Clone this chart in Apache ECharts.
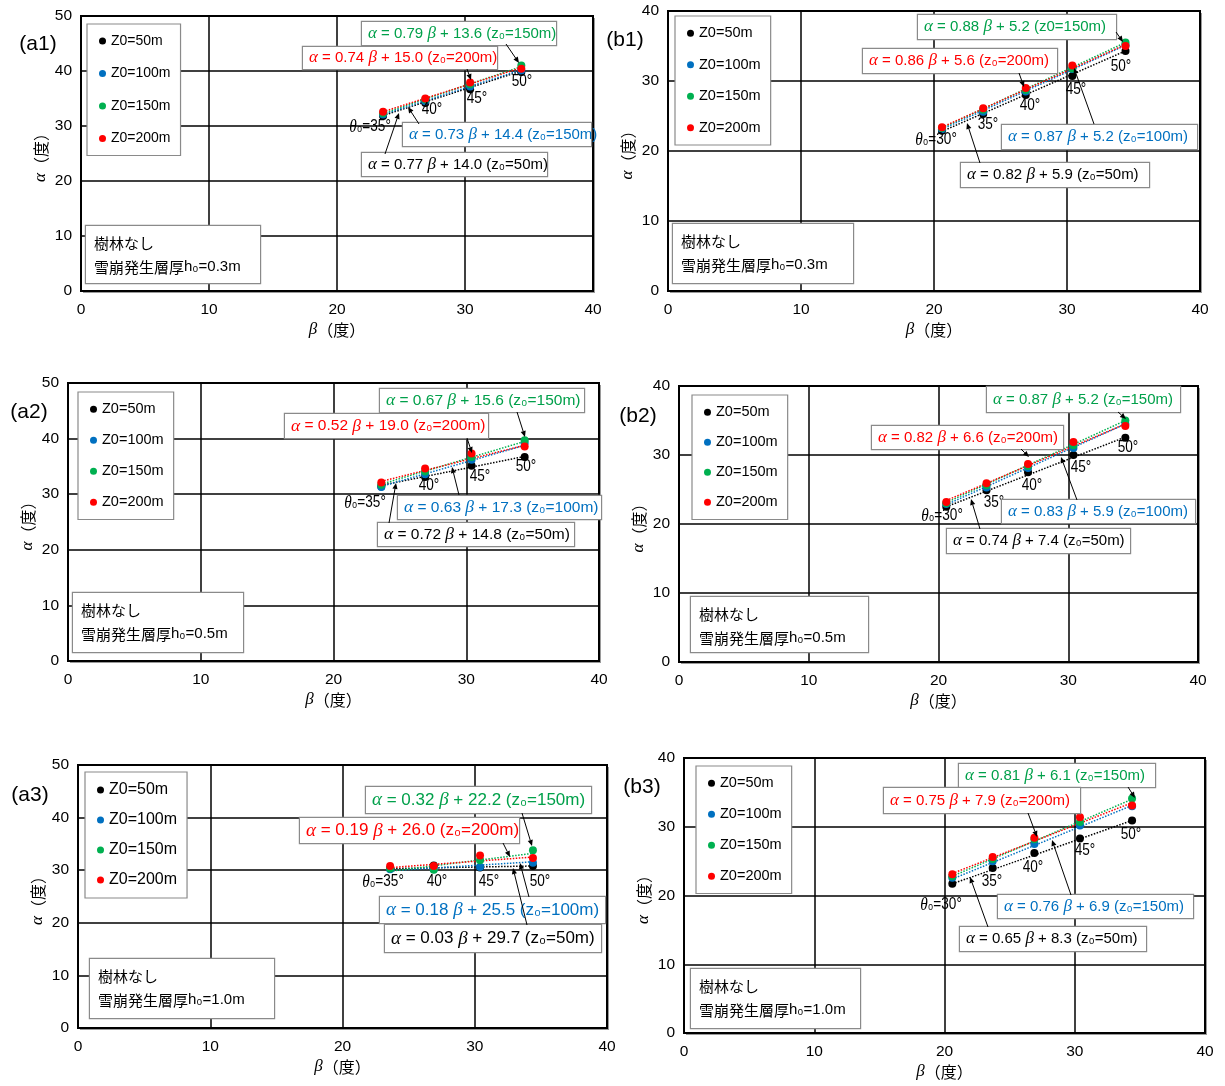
<!DOCTYPE html>
<html><head><meta charset="utf-8">
<script src="https://cdn.jsdelivr.net/npm/echarts@6/dist/echarts.min.js"></script>
<style>html,body{margin:0;padding:0;background:#fff}#c{width:1225px;height:1086px}</style>
</head><body><div id="c"></div>
<script>
// ---------------- DATA ----------------
const seriesNames = ['Z0=50m', 'Z0=100m', 'Z0=150m', 'Z0=200m'];
const betaA = [23.6, 26.9, 30.4, 34.4];          // θ0 = 35,40,45,50°
const betaB = [20.6, 23.7, 26.9, 30.4, 34.4];    // θ0 = 30,35,40,45,50°
const xTicks = [0, 10, 20, 30, 40];

// (a1) h0=0.3m
const a1_z50  = [31.8, 34.2, 36.7, 39.8];
const a1_z100 = [32.1, 34.5, 37.2, 40.1];
const a1_z150 = [32.3, 34.8, 37.6, 41.0];
const a1_z200 = [32.6, 35.0, 37.9, 40.4];
const a1_trend = [[31.9, 40.0], [32.1, 40.2], [32.3, 40.8], [32.6, 40.6]];
// (b1)
const b1_z50  = [22.9, 25.3, 28.0, 30.7, 34.3];
const b1_z100 = [23.1, 25.6, 28.5, 31.7, 35.1];
const b1_z150 = [23.3, 25.9, 28.7, 31.8, 35.5];
const b1_z200 = [23.4, 26.1, 29.0, 32.2, 35.0];
const b1_trend = [[22.8, 34.3], [23.1, 35.1], [23.3, 35.5], [23.4, 35.2]];
// (a2) h0=0.5m
const a2_z50  = [31.4, 33.1, 35.1, 36.7];
const a2_z100 = [31.3, 33.6, 36.2, 39.2];
const a2_z150 = [31.7, 34.1, 36.7, 39.7];
const a2_z200 = [32.1, 34.6, 37.3, 38.6];
const a2_trend = [[31.6, 36.8], [31.4, 38.8], [31.8, 39.5], [32.3, 38.8]];
// (b2)
const b2_z50  = [22.5, 24.9, 27.5, 30.0, 32.5];
const b2_z100 = [22.9, 25.3, 28.1, 31.0, 34.5];
const b2_z150 = [23.0, 25.6, 28.4, 31.4, 35.0];
const b2_z200 = [23.2, 25.9, 28.7, 31.9, 34.2];
const b2_trend = [[22.5, 32.6], [22.8, 34.5], [23.1, 35.0], [23.4, 34.5]];
// (a3) h0=1.0m
const a3_z50  = [30.3, 30.9, 30.5, 30.8];
const a3_z100 = [30.2, 30.2, 30.6, 31.4];
const a3_z150 = [30.3, 30.1, 31.9, 33.8];
const a3_z200 = [30.8, 30.8, 32.8, 32.3];
const a3_trend = [[30.3, 30.8], [29.9, 31.6], [29.8, 33.2], [30.5, 32.5]];
// (b3)
const b3_z50  = [21.7, 24.0, 26.2, 28.3, 30.9];
const b3_z100 = [22.6, 25.0, 27.5, 30.2, 33.0];
const b3_z150 = [22.8, 25.3, 28.2, 30.7, 34.1];
const b3_z200 = [23.1, 25.6, 28.4, 31.4, 33.1];
const b3_trend = [[21.7, 30.9], [22.4, 33.1], [22.8, 34.0], [23.2, 33.5]];

// ---------------- STYLE / LAYOUT ----------------
const colors = ['#000000', '#0070C0', '#00B050', '#FF0000'];
const textColors = ['#000000', '#0070C0', '#00A04A', '#FF0000'];
const FS = '"Liberation Sans","Noto Sans CJK JP",sans-serif';
const FJ = '"Noto Sans CJK JP",sans-serif';
const FI = '"Liberation Serif","DejaVu Serif",serif';

const panels = [
  { tag: '(a1)', tagPos: [38, 44], g: [81, 16, 512, 275], yMax: 50, beta: betaA,
    data: [a1_z50, a1_z100, a1_z150, a1_z200], trend: a1_trend,
    legend: [87, 24, 14, 18.5], info: [86, 226, 174, 57, '0.3'], eqFs: 15,
    eqs: [[362, 22, 194, 23, 2, 'α = 0.79 β + 13.6 (z₀=150m)'], [303, 47, 194, 22, 3, 'α = 0.74 β + 15.0 (z₀=200m)'],
          [403, 123, 188, 23, 1, 'α = 0.73 β + 14.4 (z₀=150m)'], [362, 153, 185, 23, 0, 'α = 0.77 β + 14.0 (z₀=50m)']],
    angles: [['θ₀=35°', 370, 127], ['40°', 432, 110], ['45°', 477, 99], ['50°', 522, 82]],
    arrows: [[506, 44, 519, 63], [467, 69, 471, 80], [419, 124, 408, 107], [385, 154, 399, 113]] },
  { tag: '(b1)', tagPos: [625, 40], g: [668, 11, 532, 280], yMax: 40, beta: betaB,
    data: [b1_z50, b1_z100, b1_z150, b1_z200], trend: b1_trend,
    legend: [675, 16, 14.5, 17], info: [673, 224, 180, 59, '0.3'], eqFs: 15,
    eqs: [[918, 15, 198, 24, 2, 'α = 0.88 β + 5.2 (z0=150m)'], [863, 49, 194, 24, 3, 'α = 0.86 β + 5.6 (z₀=200m)'],
          [1002, 125, 195, 24, 1, 'α = 0.87 β + 5.2 (z₀=100m)'], [961, 163, 188, 24, 0, 'α = 0.82 β + 5.9 (z₀=50m)']],
    angles: [['θ₀=30°', 936, 140], ['35°', 988, 125], ['40°', 1030, 106], ['45°', 1076, 90], ['50°', 1121, 67]],
    arrows: [[1116, 32, 1123, 42], [1019, 73, 1024, 87], [1094, 124, 1074, 68], [980, 163, 967, 123]] },
  { tag: '(a2)', tagPos: [29, 412], g: [68, 383, 531, 278], yMax: 50, beta: betaA,
    data: [a2_z50, a2_z100, a2_z150, a2_z200], trend: a2_trend,
    legend: [78, 392, 14.5, 16.5], info: [73, 593, 170, 59, '0.5'], eqFs: 15.5,
    eqs: [[380, 389, 204, 23, 2, 'α = 0.67 β + 15.6 (z₀=150m)'], [285, 414, 203, 24, 3, 'α = 0.52 β + 19.0 (z₀=200m)'],
          [398, 496, 203, 23, 1, 'α = 0.63 β + 17.3 (z₀=100m)'], [378, 523, 196, 23, 0, 'α = 0.72 β + 14.8 (z₀=50m)']],
    angles: [['θ₀=35°', 365, 503], ['40°', 429, 486], ['45°', 480, 477], ['50°', 526, 467]],
    arrows: [[517, 412, 525, 437], [467, 438, 472, 453], [459, 495, 452, 467], [389, 523, 396, 483]] },
  { tag: '(b2)', tagPos: [638, 416], g: [679, 386, 519, 276], yMax: 40, beta: betaB,
    data: [b2_z50, b2_z100, b2_z150, b2_z200], trend: b2_trend,
    legend: [692, 395, 14.5, 15.5], info: [691, 597, 177, 55, '0.5'], eqFs: 15,
    eqs: [[987, 387, 193, 25, 2, 'α = 0.87 β + 5.2 (z₀=150m)'], [872, 426, 191, 23, 3, 'α = 0.82 β + 6.6 (z₀=200m)'],
          [1002, 500, 193, 23, 1, 'α = 0.83 β + 5.9 (z₀=100m)'], [947, 529, 183, 24, 0, 'α = 0.74 β + 7.4 (z₀=50m)']],
    angles: [['θ₀=30°', 942, 516], ['35°', 994, 503], ['40°', 1032, 486], ['45°', 1081, 468], ['50°', 1128, 448]],
    arrows: [[1118, 412, 1126, 419], [1021, 449, 1029, 457], [1077, 500, 1061, 457], [980, 529, 971, 499]] },
  { tag: '(a3)', tagPos: [30, 795], g: [78, 765, 529, 263], yMax: 50, beta: betaA,
    data: [a3_z50, a3_z100, a3_z150, a3_z200], trend: a3_trend,
    legend: [85, 772, 16, 14], info: [90, 959, 184, 59, '1.0'], eqFs: 17,
    eqs: [[366, 787, 225, 26, 2, 'α = 0.32 β + 22.2 (z₀=150m)'], [300, 818, 219, 25, 3, 'α = 0.19 β + 26.0 (z₀=200m)'],
          [380, 897, 225, 26, 1, 'α = 0.18 β + 25.5 (z₀=100m)'], [385, 925, 216, 27, 0, 'α = 0.03 β + 29.7 (z₀=50m)']],
    angles: [['θ₀=35°', 383, 882], ['40°', 437, 882], ['45°', 489, 882], ['50°', 540, 882]],
    arrows: [[522, 813, 532, 846], [503, 843, 510, 857], [529, 897, 520, 863], [527, 925, 513, 868]] },
  { tag: '(b3)', tagPos: [642, 787], g: [684, 758, 521, 275], yMax: 40, beta: betaB,
    data: [b3_z50, b3_z100, b3_z150, b3_z200], trend: b3_trend,
    legend: [696, 766, 14.5, 16.5], info: [691, 969, 169, 59, '1.0'], eqFs: 15,
    eqs: [[959, 764, 196, 23, 2, 'α = 0.81 β + 6.1 (z₀=150m)'], [884, 788, 196, 25, 3, 'α = 0.75 β + 7.9 (z₀=200m)'],
          [998, 895, 195, 23, 1, 'α = 0.76 β + 6.9 (z₀=150m)'], [960, 927, 186, 24, 0, 'α = 0.65 β + 8.3 (z₀=50m)']],
    angles: [['θ₀=30°', 941, 905], ['35°', 992, 882], ['40°', 1033, 868], ['45°', 1085, 851], ['50°', 1131, 835]],
    arrows: [[1128, 787, 1135, 798], [1028, 813, 1037, 837], [1071, 895, 1052, 840], [988, 927, 970, 877]] }
];

// ---------------- BUILD ----------------
const grids = [], xAxes = [], yAxes = [], series = [], legends = [], graphics = [];

function richGreek(s) { return s.replace(/([αβθ])/g, '{i|$1}'); }

function arrowEls(x1, y1, x2, y2) {
  const a = Math.atan2(y2 - y1, x2 - x1), L = 6, W = 2.6;
  const bx = x2 - L * Math.cos(a), by = y2 - L * Math.sin(a);
  const nx = -Math.sin(a) * W, ny = Math.cos(a) * W;
  return [
    { type: 'line', z: 120, silent: true, shape: { x1, y1, x2: bx, y2: by }, style: { stroke: '#000', lineWidth: 1 } },
    { type: 'polygon', z: 120, silent: true, shape: { points: [[x2, y2], [bx + nx, by + ny], [bx - nx, by - ny]] }, style: { fill: '#000' } }
  ];
}

panels.forEach((p, gi) => {
  const [gl, gt, gw, gh] = p.g;
  grids.push({ left: gl, top: gt, width: gw, height: gh, show: true, borderColor: '#000', borderWidth: 2, backgroundColor: '#fff' });
  graphics.push({ type: 'rect', z: -10, silent: true, shape: { x: gl + 2, y: gt + 2, width: gw, height: gh }, style: { fill: '#9a9a9a' } });
  const nameStyle = { fontSize: 16, color: '#000', fontFamily: FJ, rich: { i: { fontStyle: 'italic', fontSize: 17, fontFamily: FI, color: '#000' } } };
  xAxes.push({
    gridIndex: gi, type: 'value', min: xTicks[0], max: xTicks[xTicks.length - 1], interval: 10,
    axisLine: { show: true, onZero: false, lineStyle: { color: '#000', width: 2 } }, axisTick: { show: false },
    splitLine: { show: true, lineStyle: { color: '#000', width: 1.5 } },
    axisLabel: { fontSize: 15.5, color: '#000', margin: 11, fontFamily: FS },
    name: '{i|β}（度）', nameLocation: 'middle', nameGap: 30, nameTextStyle: nameStyle
  });
  yAxes.push({
    gridIndex: gi, type: 'value', min: 0, max: p.yMax, interval: 10,
    axisLine: { show: true, onZero: false, lineStyle: { color: '#000', width: 2 } }, axisTick: { show: false },
    splitLine: { show: true, lineStyle: { color: '#000', width: 1.5 } },
    axisLabel: { fontSize: 15.5, color: '#000', margin: 9, fontFamily: FS },
    name: '{i|α}（度）', nameLocation: 'middle', nameGap: 32, nameRotate: 90, nameTextStyle: nameStyle
  });
  p.data.forEach((d, si) => {
    series.push({
      type: 'line', name: 'trend' + si, xAxisIndex: gi, yAxisIndex: gi, silent: true, symbol: 'none', z: 2,
      data: [[p.beta[0], p.trend[si][0]], [p.beta[p.beta.length - 1], p.trend[si][1]]],
      lineStyle: { type: [1.5, 1.5], width: 1.5, color: colors[si] }, animation: false
    });
  });
  p.data.forEach((d, si) => {
    series.push({
      type: 'scatter', name: seriesNames[si], xAxisIndex: gi, yAxisIndex: gi, z: 3 + si,
      data: p.beta.map((b, k) => [b, d[k]]), symbolSize: 8, itemStyle: { color: colors[si], opacity: 1 }, animation: false
    });
  });
  const [ll, lt, lfs, lgap] = p.legend;
  legends.push({
    data: seriesNames, orient: 'vertical', left: ll, top: lt, icon: 'circle', itemWidth: 7, itemHeight: 7,
    itemGap: lgap, selectedMode: false, textStyle: { fontSize: lfs, color: '#000', fontFamily: FS },
    backgroundColor: '#fff', borderColor: '#8a8a8a', borderWidth: 1.2, padding: [10, 10, 10, 12], z: 50
  });
  // panel tag
  graphics.push({ type: 'text', z: 100, silent: true, style: { x: p.tagPos[0], y: p.tagPos[1], text: p.tag, align: 'center', verticalAlign: 'middle', font: '21px ' + FS, fill: '#000' } });
  // info box
  const [ix, iy, iw, ih, h0] = p.info;
  graphics.push({ type: 'text', z: 100, silent: true, style: {
    x: ix, y: iy, text: '樹林なし\n雪崩発生層厚{n|h₀=' + h0 + 'm}', fill: '#000', font: '15px ' + FJ,
    width: iw - 16, height: ih - 10, padding: [5, 8, 5, 8], lineHeight: 24, verticalAlign: 'top', align: 'left',
    backgroundColor: '#fff', borderColor: '#8a8a8a', borderWidth: 1.2,
    rich: { n: { fontSize: 15, fontFamily: FS, fill: '#000', lineHeight: 24 } }
  } });
  // equation boxes
  p.eqs.forEach(e => {
    const [ex, ey, ew, eh, ci, txt] = e;
    graphics.push({ type: 'text', z: 110, silent: true, style: {
      x: ex, y: ey, text: richGreek(txt), fill: textColors[ci], font: p.eqFs + 'px ' + FS,
      width: ew - 12, height: eh, lineHeight: eh, padding: [0, 6, 0, 6], verticalAlign: 'top', align: 'left',
      backgroundColor: '#fff', borderColor: '#8a8a8a', borderWidth: 1.2,
      rich: { i: { fontStyle: 'italic', fontSize: p.eqFs + 2, fontFamily: FI, fill: textColors[ci], lineHeight: eh } }
    } });
  });
  // angle labels (slightly condensed)
  p.angles.forEach(a => {
    graphics.push({ type: 'text', z: 105, silent: true, x: a[1], y: a[2], scaleX: 0.85, style: {
      x: 0, y: 0, text: richGreek(a[0]), fill: '#000', font: '16px ' + FS, align: 'center', verticalAlign: 'middle',
      rich: { i: { fontStyle: 'italic', fontSize: 18, fontFamily: FI, fill: '#000' } }
    } });
  });
  // leader arrows
  p.arrows.forEach(a => { arrowEls(a[0], a[1], a[2], a[3]).forEach(el => graphics.push(el)); });
});

const chart = echarts.init(document.getElementById('c'), null, { renderer: 'canvas', width: 1225, height: 1086 });
chart.setOption({
  animation: false,
  backgroundColor: '#fff',
  grid: grids, xAxis: xAxes, yAxis: yAxes, series: series, legend: legends,
  graphic: { elements: graphics }
});
</script></body></html>
